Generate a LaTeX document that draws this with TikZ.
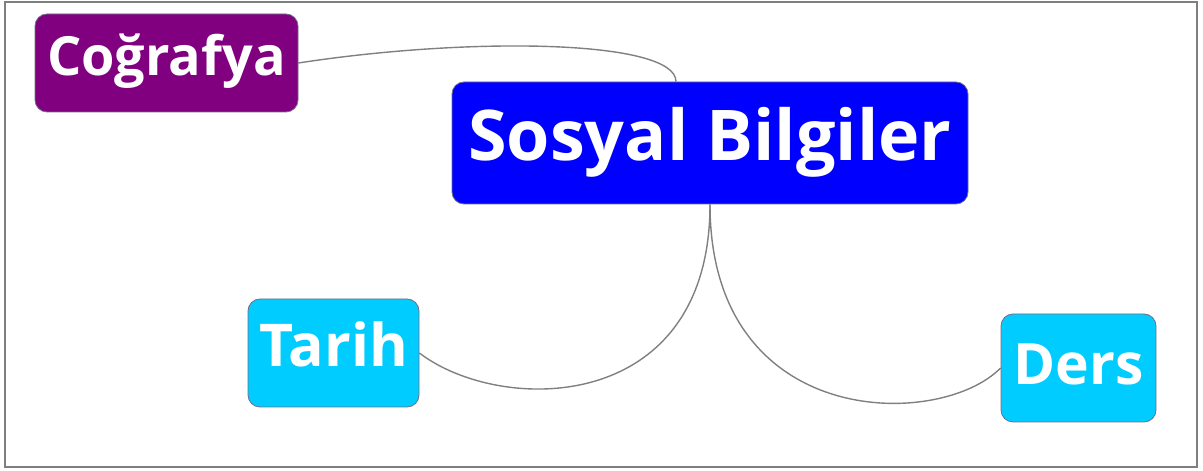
\documentclass[tikz,border=0pt]{standalone}
\usepackage{fontspec}
\setmainfont{Open Sans}
\usetikzlibrary{backgrounds}
\definecolor{frameGray}{HTML}{7F7F7F}
\definecolor{lineGray}{HTML}{808080}
\definecolor{nodeBorder}{HTML}{6E6E8C}
\definecolor{purpleFill}{HTML}{800080}
\definecolor{blueFill}{HTML}{0000FF}
\definecolor{cyanFill}{HTML}{00CCFF}
\tikzset{
  topic/.style={draw=nodeBorder, line width=0.8pt, rounded corners=12pt, text=white, inner sep=0pt, align=center},
  link/.style={draw=lineGray, line width=1.4pt},
}
\begin{document}
\begin{tikzpicture}[x=1pt,y=1pt]
\useasboundingbox (0,0) rectangle (1203,471);
\draw[frameGray, line width=1.5pt] (5,4) rectangle (1197,469);
\node[topic, fill=purpleFill, minimum width=263pt, minimum height=98pt, text height=38.5pt, text depth=12.5pt] (C) at (166.5,408) {\fontsize{54}{60}\selectfont\bfseries Coğrafya};
\node[topic, fill=blueFill, minimum width=516pt, minimum height=122pt, text height=50pt, text depth=14pt] (S) at (710,328) {\fontsize{70}{78}\selectfont\bfseries Sosyal Bilgiler};
\node[topic, fill=cyanFill, minimum width=171pt, minimum height=108pt, text height=42pt, text depth=14pt] (T) at (333.5,118) {\fontsize{59}{64}\selectfont\bfseries Tarih};
\node[topic, fill=cyanFill, minimum width=155pt, minimum height=108pt, text height=41pt, text depth=7pt] (D) at (1078.5,103) {\fontsize{57}{64}\selectfont\bfseries Ders};
\begin{scope}[on background layer]
\draw[link] ([xshift=-34pt]S.north) .. controls +(0,42) and +(172,26.5) .. (C.east);
\draw[link] (S.south) .. controls +(0,-211) and +(81,-62) .. (T.east);
\draw[link] (S.south) .. controls +(0,-226) and +(-61,-62) .. (D.west);
\end{scope}
\end{tikzpicture}
\end{document}
